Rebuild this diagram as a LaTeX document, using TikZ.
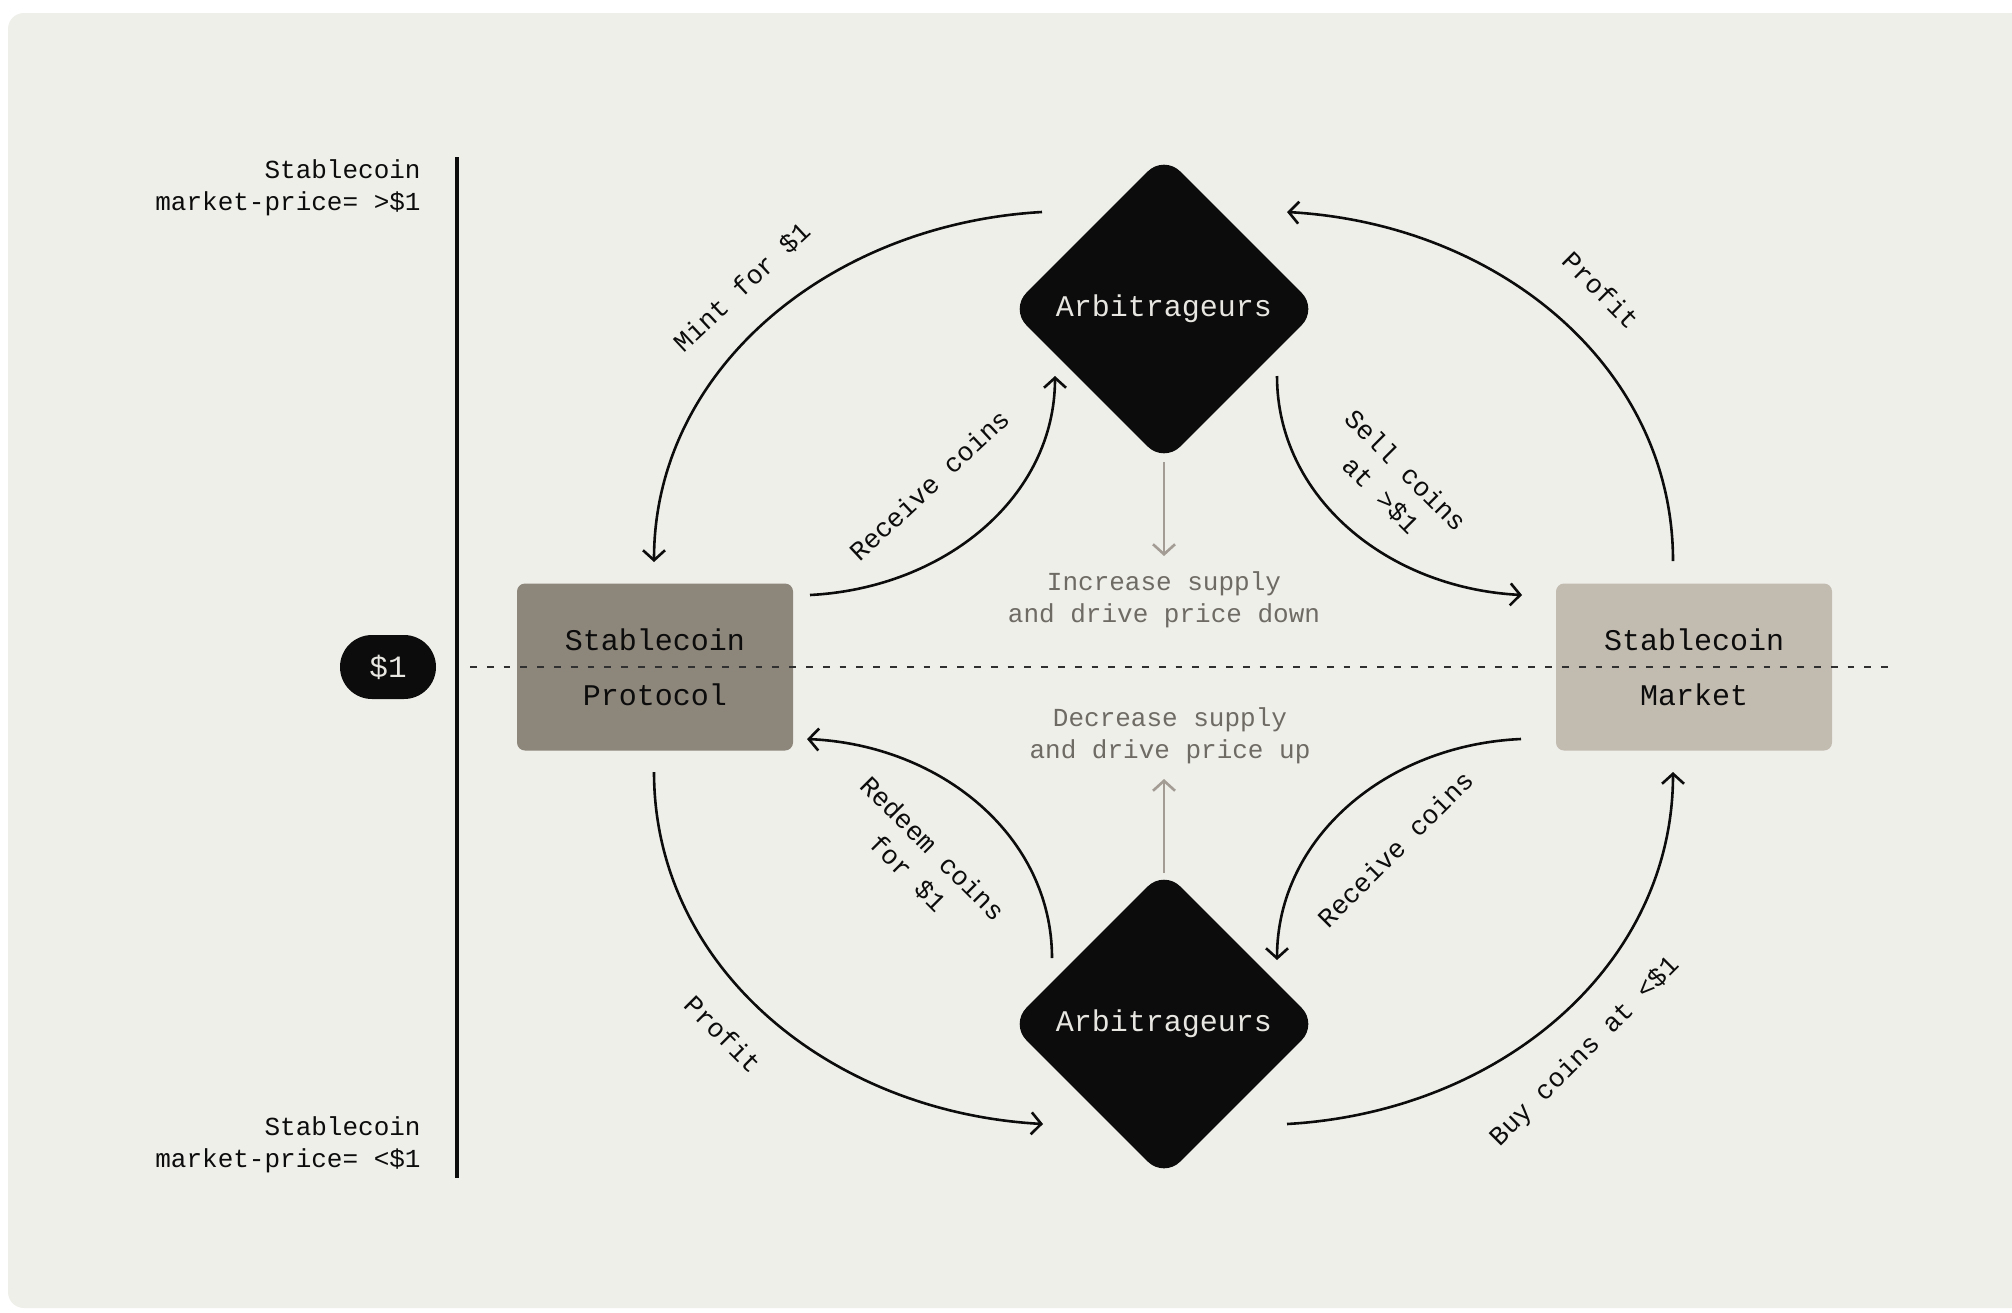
\documentclass[tikz,border=0pt]{standalone}
\usepackage{fontspec}
\newfontfamily\monof{Liberation Mono}
\usetikzlibrary{arrows.meta,shapes.geometric}
\definecolor{bgc}{RGB}{239,239,234}
\definecolor{protoc}{RGB}{141,134,123}
\definecolor{marketc}{RGB}{194,187,176}
\definecolor{inkc}{RGB}{12,12,12}
\definecolor{lighttxt}{RGB}{232,230,224}
\definecolor{graytxt}{RGB}{110,106,100}
\definecolor{grayarr}{RGB}{162,156,148}
\tikzset{
  arc/.style={draw=inkc, line width=1.3pt, -{Straight Barb[length=5pt,width=11pt,line width=1.3pt]}},
  grayarrow/.style={draw=grayarr, line width=1.3pt, -{Straight Barb[length=5pt,width=11pt,line width=1.3pt]}},
  boxnode/.style={rectangle, rounded corners=4pt, minimum width=138pt, minimum height=83.5pt, inner sep=0pt,
    align=center, text=inkc, font=\monof\fontsize{15}{27.5}\selectfont},
  arbnode/.style={diamond, aspect=1, fill=inkc, rounded corners=11.5pt, minimum width=154pt, minimum height=154pt,
    inner sep=0pt, text=lighttxt, font=\monof\fontsize{15}{18}\selectfont},
  arclabel/.style={text=inkc, align=center, inner sep=0pt, font=\monof\fontsize{13.3}{17.5}\selectfont},
  sidelabel/.style={text=inkc, align=right, inner sep=0pt, font=\monof\fontsize{13}{16}\selectfont},
  midlabel/.style={text=graytxt, align=center, inner sep=0pt, font=\monof\fontsize{13}{16}\selectfont},
}
\begin{document}
\begin{tikzpicture}[x=0.5pt,y=-0.5pt]
\useasboundingbox (0,0) rectangle (2012,1312);
\fill[white] (0,0) rectangle (2012,1312);
\fill[bgc, rounded corners=8pt] (8,13) rectangle (2040,1308);

% vertical axis
\coordinate (vtop) at (457,157);
\coordinate (vbot) at (457,1178);
\draw[inkc, line width=1.6pt] (vtop) -- (vbot);

% side labels
\node[sidelabel, anchor=east] (hi) at (421,188) {Stablecoin\\market-price= >\$1};
\node[sidelabel, anchor=east] (lo) at (421,1145) {Stablecoin\\market-price= <\$1};

% $1 pill
\node[fill=inkc, rounded corners=16pt, minimum width=48pt, minimum height=32pt, inner sep=0pt,
  text=lighttxt, font=\monof\fontsize{15.5}{18}\selectfont] (one) at (388,667) {\$1};

% boxes
\node[boxnode, fill=protoc] (proto) at (655,667) {Stablecoin\\Protocol};
\node[boxnode, fill=marketc] (market) at (1694,667) {Stablecoin\\Market};

% diamonds
\node[arbnode] (arbT) at (1164,309) {Arbitrageurs};
\node[arbnode] (arbB) at (1164,1024) {Arbitrageurs};

% dashed line
\coordinate (dl) at (470,667);
\coordinate (dr) at (1889,667);
\draw[inkc!85, line width=1pt, dash pattern=on 3.4pt off 5pt] (dl) -- (dr);

% middle labels
\node[midlabel] (inc) at (1164,600) {Increase supply\\and drive price down};
\node[midlabel] (dec) at (1170,736) {Decrease supply\\and drive price up};
\coordinate (gT1) at (1164,462);
\coordinate (gT2) at (1164,556);
\coordinate (gB1) at (1164,873);
\coordinate (gB2) at (1164,779);
\draw[grayarrow] (gT1) -- (gT2);
\draw[grayarrow] (gB1) -- (gB2);

% arc end points
\coordinate (a1s) at (1042,212); \coordinate (a1e) at (654,562);
\coordinate (a2s) at (1673,561); \coordinate (a2e) at (1287,212);
\coordinate (a3s) at (810,595);  \coordinate (a3e) at (1055,376);
\coordinate (a4s) at (1277,376); \coordinate (a4e) at (1522,595);
\coordinate (a5s) at (1052,958); \coordinate (a5e) at (807,739);
\coordinate (a6s) at (1521,739); \coordinate (a6e) at (1277,960);
\coordinate (a7s) at (654,772);  \coordinate (a7e) at (1043,1124);
\coordinate (a8s) at (1287,1124);\coordinate (a8e) at (1673,772);

\draw[arc] (a1s) .. controls (830,224) and (654,369) .. (a1e);
\draw[arc] (a2s) .. controls (1673,368) and (1500,224) .. (a2e);
\draw[arc] (a3s) .. controls (945,588) and (1055,497) .. (a3e);
\draw[arc] (a4s) .. controls (1277,497) and (1387,588) .. (a4e);
\draw[arc] (a5s) .. controls (1052,837) and (942,745) .. (a5e);
\draw[arc] (a6s) .. controls (1386,745) and (1277,838) .. (a6e);
\draw[arc] (a7s) .. controls (654,966) and (828,1112) .. (a7e);
\draw[arc] (a8s) .. controls (1500,1112) and (1673,966) .. (a8e);

% arc labels
\node[arclabel, rotate=43] (l1) at (742,287) {Mint for \$1};
\node[arclabel, rotate=-45] (l2) at (1601,290) {Profit};
\node[arclabel, rotate=43] (l3) at (929,485) {Receive coins};
\node[arclabel, rotate=-45] (l4) at (1393,483) {Sell coins\\at >\$1};
\node[arclabel, rotate=-45] (l5) at (920,861) {Redeem coins\\for \$1};
\node[arclabel, rotate=45] (l6) at (1395,849) {Receive coins};
\node[arclabel, rotate=-45] (l7) at (723,1034) {Profit};
\node[arclabel, rotate=45] (l8) at (1585,1052) {Buy coins at <\$1};
\end{tikzpicture}
\end{document}
